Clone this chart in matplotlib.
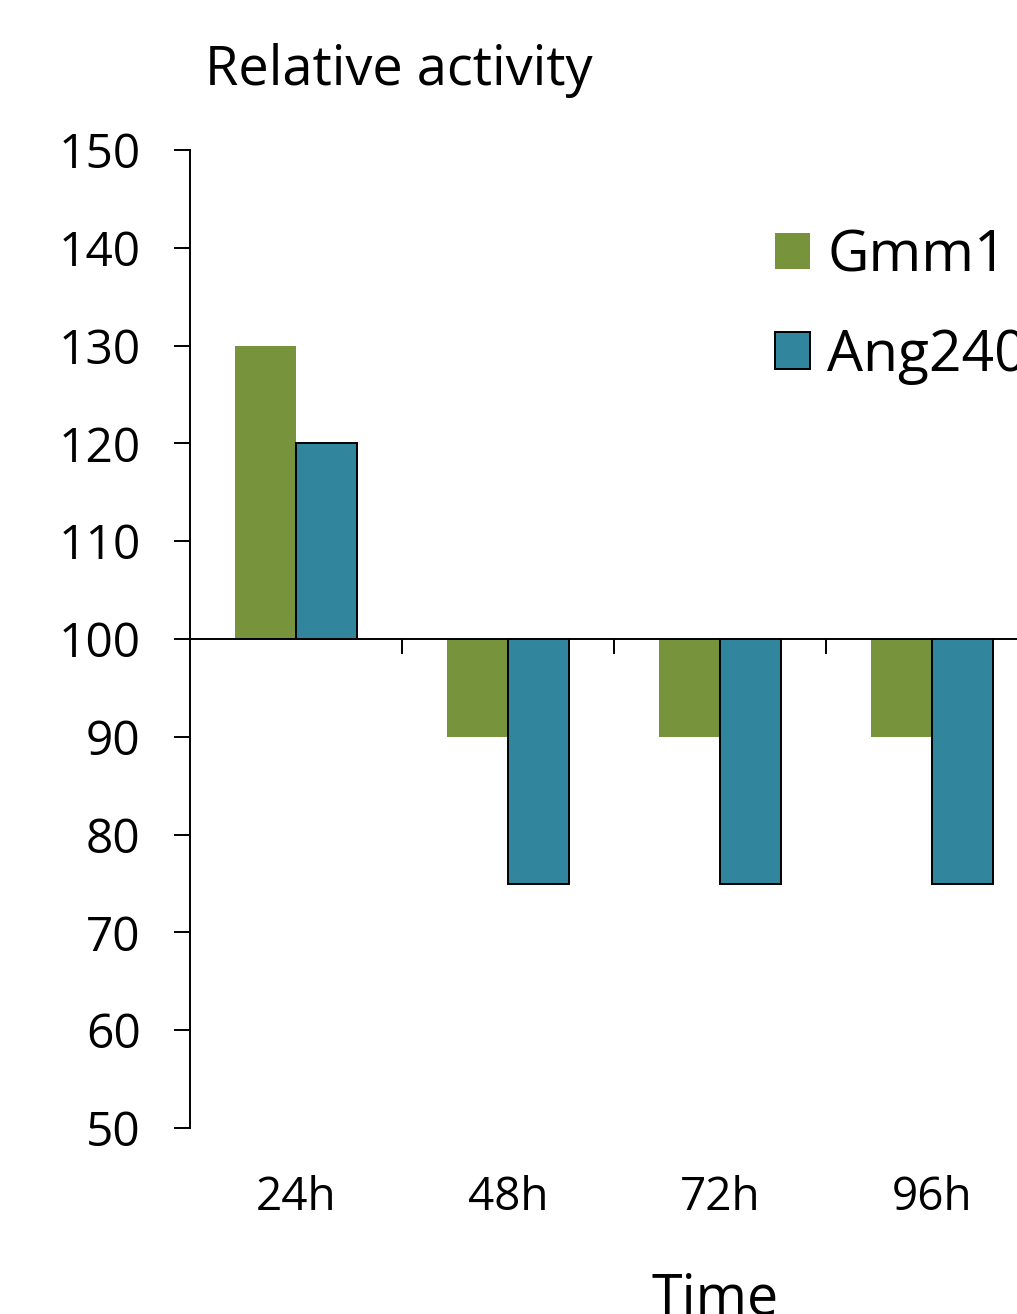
import matplotlib
matplotlib.use("Agg")
import matplotlib.pyplot as plt
import matplotlib.transforms as mtransforms
import numpy as np

plt.rcParams['font.family'] = ['Open Sans', 'DejaVu Sans']

categories = ['24h', '48h', '72h', '96h']
gmm1 = [130, 90, 90, 90]
ang240 = [120, 75, 75, 75]
baseline = 100
series_names = ['Gmm1', 'Ang240']

green = '#77933c'
blue = '#31859c'

W, H = 1017, 1314
fig = plt.figure(figsize=(W / 100, H / 100), dpi=100)
# axes deliberately runs past the right edge, as in the reference
ax = fig.add_axes([190 / W, 1 - 1128 / H, (1038 - 190) / W, (1128 - 150) / H])

x = np.arange(len(categories))
bw = 0.29
ax.bar(x - bw / 2, np.array(gmm1) - baseline, bw, bottom=baseline,
       color=green, edgecolor='none', label=series_names[0])
ax.bar(x + bw / 2, np.array(ang240) - baseline, bw, bottom=baseline,
       color=blue, edgecolor='black', linewidth=1.4, label=series_names[1])

ax.set_xlim(-0.5, len(categories) - 0.5)
ax.set_ylim(50, 150)
ax.set_yticks(np.arange(50, 151, 10))

for s in ['top', 'right']:
    ax.spines[s].set_visible(False)
ax.spines['bottom'].set_position(('data', baseline))
ax.spines['left'].set_linewidth(1.4)
ax.spines['bottom'].set_linewidth(1.4)

ax.set_xticks(np.arange(0.5, len(categories) - 1, 1))
ax.set_xticklabels([])
ax.tick_params(axis='x', direction='out', length=11, width=1.4)
ax.tick_params(axis='y', direction='out', length=11.5, width=1.4, pad=24,
               labelsize=34.5)

trans = mtransforms.blended_transform_factory(ax.transData, ax.transAxes)
for i, lab in enumerate(categories):
    ax.text(i, -0.072, lab, transform=trans, ha='center', va='center', fontsize=33)

fig.text(205 / W, 1 - 70 / H, 'Relative activity', ha='left', va='center', fontsize=39)
fig.text(715 / W, 1 - 1300 / H, 'Time', ha='center', va='center', fontsize=40)

ax.legend(loc='upper left', bbox_to_anchor=(775 / W, 1 - 228 / H),
          bbox_transform=fig.transFigure, frameon=False, fontsize=41,
          handlelength=0.62, handleheight=0.62, handletextpad=0.3,
          labelspacing=0.75, borderaxespad=0, borderpad=0)

fig.savefig('out.png', dpi=100)
